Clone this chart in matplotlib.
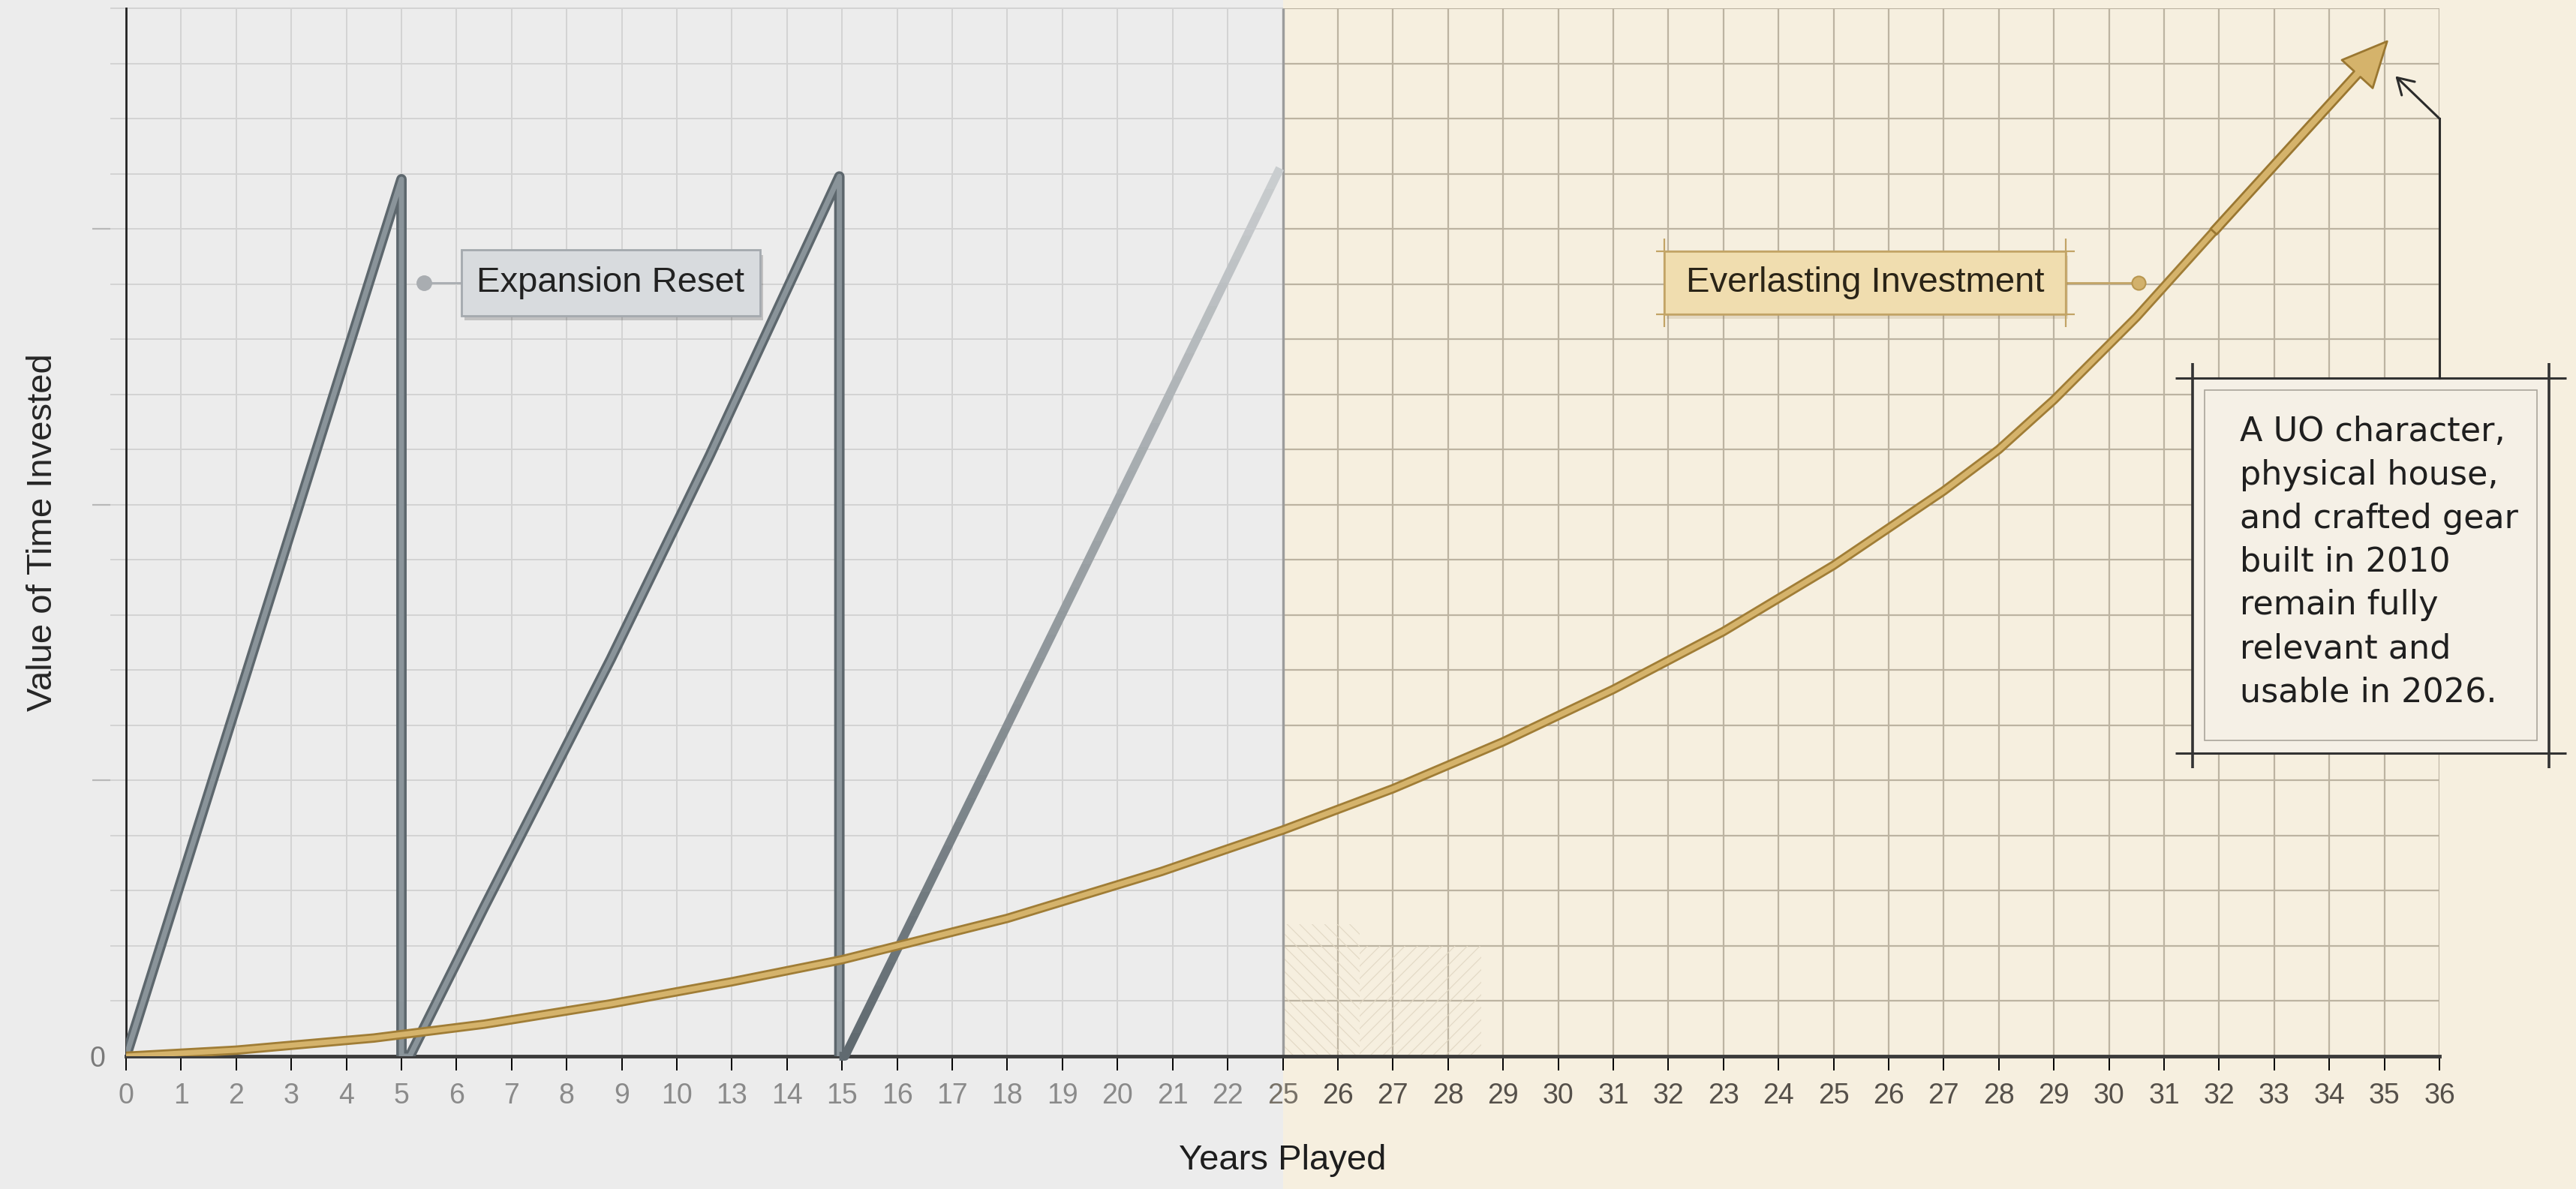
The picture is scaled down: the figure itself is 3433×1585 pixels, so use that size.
import matplotlib
matplotlib.use("Agg")
import matplotlib.pyplot as plt
import matplotlib.patheffects as pe
import matplotlib.transforms as mtransforms
from matplotlib.patches import Rectangle
import numpy as np

# labels printed under each grid column (as in the original picture)
x_tick_labels = ["0", "1", "2", "3", "4", "5", "6", "7", "8", "9", "10",
                 "13", "14", "15", "16", "17", "18", "19", "20", "21", "22",
                 "25", "26", "27", "28", "29", "30", "31", "32",
                 "23", "24", "25", "26", "27", "28", "29", "30", "31", "32",
                 "33", "34", "35", "36"]

# grey sawtooth - two expansion cycles (x = grid column, y = grid rows)
reset_x = [0, 5.0, 5.0, 5.15, 6.5, 8.8, 10.6, 12.95, 12.95]
reset_y = [0, 15.9, 0, 0, 2.7, 7.2, 10.9, 15.95, 0]

# third cycle, fading out towards the boundary
fade_x = [12.95, 13.05, 16.0, 18.8, 20.95]
fade_y = [0, 0, 6.0, 11.7, 16.1]

# gold "everlasting" curve
gold_x = [0, 2.0, 4.5, 6.5, 8.8, 11.0, 13.0, 16.0, 18.8, 21.0, 23.0, 25.0,
          27.0, 29.0, 31.0, 33.0, 34.0, 35.0, 36.5, 37.9]
gold_y = [0, 0.11, 0.33, 0.58, 0.95, 1.35, 1.75, 2.5, 3.35, 4.1, 4.85, 5.7,
          6.65, 7.7, 8.9, 10.25, 11.0, 11.9, 13.4, 14.95]
gold_tip = (41.05, 18.4)

note_text = ("A UO character,\nphysical house,\nand crafted gear\nbuilt in 2010\n"
             "remain fully\nrelevant and\nusable in 2026.")

N_COLS = 42
N_ROWS = 19
SPLIT = 21

GREY_BG = "#ececec"
TAN_BG = "#f6efdf"
GREY_GRID = "#d3d3d3"
TAN_GRID = "#bcb3a1"

fig = plt.figure(figsize=(34.33, 15.85), dpi=100, facecolor=GREY_BG)
ax = fig.add_axes([0.04894, 0.11167, 0.89805, 0.88139])
ax.set_facecolor("none")
ax.set_xlim(0, N_COLS)
ax.set_ylim(0, N_ROWS)

# tan paper on the right half, full figure height
blend = mtransforms.blended_transform_factory(ax.transData, fig.transFigure)
ax.add_patch(Rectangle((SPLIT, 0), 30, 1, transform=blend, facecolor=TAN_BG,
                       edgecolor="none", clip_on=False, zorder=-10))

# grid
cols = np.arange(0, N_COLS + 1)
rows = np.arange(1, N_ROWS + 1)
ax.vlines(cols[cols < SPLIT], 0, N_ROWS, colors=GREY_GRID, lw=1.4, zorder=0)
ax.vlines(cols[cols > SPLIT], 0, N_ROWS, colors=TAN_GRID, lw=1.6, zorder=0)
ax.vlines([SPLIT], 0, N_ROWS, colors="#9c9c9c", lw=2.4, zorder=0.5)
ax.hlines(rows, -0.29, SPLIT, colors=GREY_GRID, lw=1.4, zorder=0, clip_on=False)
ax.hlines(rows, SPLIT, N_COLS, colors=TAN_GRID, lw=1.6, zorder=0)
ax.hlines([5, 10, 15], -0.61, -0.29, colors="#b8b8b8", lw=1.6, clip_on=False)

# faint sketch hatching at the start of the tan area
plt.rcParams["hatch.linewidth"] = 0.8
ax.add_patch(Rectangle((SPLIT, 0), 1.4, 2.4, hatch="\\\\", fill=False,
                       edgecolor="#e2d8c4", lw=0, zorder=0.2))
ax.add_patch(Rectangle((SPLIT + 1.4, 0), 2.2, 2.0, hatch="//", fill=False,
                       edgecolor="#e2d8c4", lw=0, zorder=0.2))

# spines and ticks
for s in ["top", "right"]:
    ax.spines[s].set_visible(False)
ax.spines["bottom"].set_linewidth(3.5)
ax.spines["bottom"].set_color("#3b3b3b")
ax.spines["left"].set_linewidth(2)
ax.spines["left"].set_color("#222222")

ax.set_xticks(range(len(x_tick_labels)))
ax.set_xticklabels(x_tick_labels, fontsize=27, family="Liberation Sans")
ax.tick_params(axis="x", length=14, width=1.4, pad=11)
for i, tick in enumerate(ax.xaxis.get_major_ticks()):
    if i < SPLIT:
        tick.tick1line.set_color("#c8c8c8")
        tick.label1.set_color("#8a8a8a")
    else:
        tick.tick1line.set_color("#8f8776")
        tick.label1.set_color("#55504a" if i > SPLIT else "#777167")

ax.set_yticks([0])
ax.set_yticklabels(["0"], fontsize=27, family="Liberation Sans", color="#7a7a7a")
ax.tick_params(axis="y", length=0, pad=20)

ax.set_xlabel("Years Played", fontsize=34, family="Liberation Sans", color="#1e1e1e")
ax.xaxis.set_label_coords(0.5, -0.084)
ax.set_ylabel("Value of Time Invested", fontsize=34, family="Liberation Sans", color="#262626")
ax.yaxis.set_label_coords(-0.029, 0.5)

# grey sawtooth
ax.plot(reset_x, reset_y, color="#8a949a", lw=5, zorder=3,
        solid_joinstyle="round", solid_capstyle="round",
        path_effects=[pe.Stroke(linewidth=10, foreground="#5d676d"), pe.Normal()])

# fading third cycle: same line drawn in horizontal bands of lighter colour
dark = np.array(matplotlib.colors.to_rgb("#606a70"))
light = np.array(matplotlib.colors.to_rgb("#cfd2d4"))
n_bands = 40
band_h = 17.0 / n_bands
for k in range(n_bands):
    t = k / (n_bands - 1)
    col = dark * (1 - t) + light * t
    y0 = k * band_h
    h = band_h
    if k == 0:
        y0, h = -1, band_h + 1
    if k == n_bands - 1:
        h = 5
    ln, = ax.plot(fade_x, fade_y, color=col, lw=8.5, zorder=3,
                  solid_capstyle="butt", solid_joinstyle="round")
    ln.set_clip_path(Rectangle((-1, y0), 50, h, transform=ax.transData))

# gold curve + arrow head
ax.plot(gold_x, gold_y, color="#d5b36b", lw=5, zorder=4,
        solid_capstyle="round", solid_joinstyle="round",
        path_effects=[pe.Stroke(linewidth=9, foreground="#a07d36"), pe.Normal()])
ax.annotate("", xy=gold_tip, xytext=(gold_x[-1], gold_y[-1]), zorder=4,
            arrowprops=dict(arrowstyle="simple,head_length=0.85,head_width=0.8,tail_width=0.16",
                            mutation_scale=50, fc="#d5b36b", ec="#9a7731", lw=2,
                            shrinkA=0, shrinkB=0))

# "Expansion Reset" label
ax.plot([5.41, 6.09], [14.02, 14.02], color="#a9adb1", lw=2, zorder=5)
ax.plot(5.41, 14.02, "o", ms=14, color="#a9adb1", zorder=5)
box = Rectangle((6.09, 13.43), 5.42, 1.19, facecolor="#d8dbde", edgecolor="#a4a9ae",
                lw=2, zorder=5,
                path_effects=[pe.withSimplePatchShadow(offset=(3, -5), shadow_rgbFace="k", alpha=0.18)])
ax.add_patch(box)
ax.text(8.8, 14.02, "Expansion Reset", fontsize=34, family="Liberation Sans",
        color="#222222", ha="center", va="center", zorder=6)

# "Everlasting Investment" label
ax.plot([35.22, 36.54], [14.02, 14.02], color="#c2a466", lw=2, zorder=5)
ax.plot(36.54, 14.02, "o", ms=13, mfc="#d2b16c", mec="#b8964f", mew=1.5, zorder=5)
box2 = Rectangle((27.93, 13.45), 7.29, 1.14, facecolor="#f0ddaf", edgecolor="#c4a565",
                 lw=1.8, zorder=5,
                 path_effects=[pe.withSimplePatchShadow(offset=(2, -4), shadow_rgbFace="#7a6030", alpha=0.15)])
ax.add_patch(box2)
ax.hlines([13.45, 14.59], 27.78, 35.38, colors="#c2a466", lw=1.6, zorder=5)
ax.vlines([27.93, 35.22], 13.22, 14.82, colors="#c2a466", lw=1.6, zorder=5)
ax.text(31.57, 14.02, "Everlasting Investment", fontsize=34, family="Liberation Sans",
        color="#2a2417", ha="center", va="center", zorder=6)

# note box on the right
ax.add_patch(Rectangle((37.52, 5.5), 6.47, 6.8, facecolor="#f5f0e6", edgecolor="none",
                       zorder=5, clip_on=False))
ax.add_patch(Rectangle((37.74, 5.72), 6.03, 6.36, fill=False, edgecolor="#aaa59b",
                       lw=1.2, zorder=5, clip_on=False))
ax.hlines([5.5, 12.3], 37.2, 44.3, colors="#333333", lw=2.2, zorder=6, clip_on=False)
ax.vlines([37.52, 43.99], 5.22, 12.57, colors="#333333", lw=2.6, zorder=6, clip_on=False)
ax.text(38.37, 11.62, note_text, fontsize=32, family="DejaVu Sans", color="#1f1f1f",
        ha="left", va="top", linespacing=1.44, zorder=7, clip_on=False)

# connector from note to the arrow head
ax.plot([42, 42], [12.3, 17.0], color="#2b2b2b", lw=2.2, zorder=6, clip_on=False)
ax.annotate("", xy=(41.2, 17.77), xytext=(42, 17.0), zorder=6,
            arrowprops=dict(arrowstyle="->,head_length=0.5,head_width=0.3",
                            mutation_scale=30, color="#2b2b2b", lw=2.2,
                            shrinkA=0, shrinkB=0))

fig.savefig("out.png", dpi=100, facecolor=fig.get_facecolor())
